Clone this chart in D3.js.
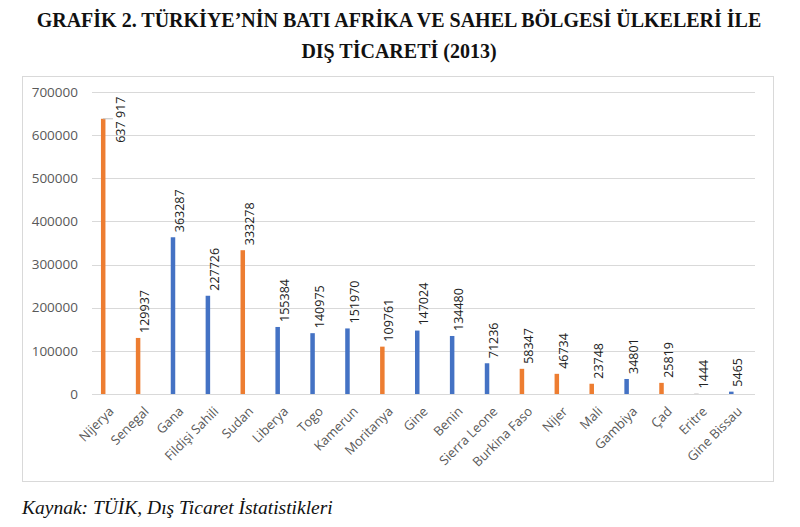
<!DOCTYPE html>
<meta charset="utf-8">
<style>
body { margin: 0; background: #fff; }
svg text { font-family: "Open Sans", sans-serif; }
</style>
<body>
<script src="https://cdn.jsdelivr.net/npm/d3@7"></script>
<script>

var width = 800, height = 527;

// data
var countries = ["Nijerya", "Senegal", "Gana", "Fildişi Sahili", "Sudan", "Liberya", "Togo",
  "Kamerun", "Moritanya", "Gine", "Benin", "Sierra Leone", "Burkina Faso", "Nijer",
  "Mali", "Gambiya", "Çad", "Eritre", "Gine Bissau"];
var values = [637917, 129937, 363287, 227726, 333278, 155384, 140975,
  151970, 109761, 147024, 134480, 71236, 58347, 46734,
  23748, 34801, 25819, 1444, 5465];
var valueLabels = ["637 917", "129937", "363287", "227726", "333278", "155384", "140975",
  "151970", "109761", "147024", "134480", "71236", "58347", "46734",
  "23748", "34801", "25819", "1444", "5465"];
var groups = ["o", "o", "b", "b", "o", "b", "b", "b", "o", "b", "b", "b", "o", "o",
  "o", "b", "o", "g", "b"];
var yTicks = [0, 100000, 200000, 300000, 400000, 500000, 600000, 700000];

var colour = {o: "#ed7d31", b: "#4472c4", g: "#d0cece"};

var svg = d3.select("body").append("svg")
    .attr("width", width)
    .attr("height", height);

// title
svg.append("g").selectAll("text")
    .data(["GRAFİK 2. TÜRKİYE’NİN BATI AFRİKA VE SAHEL BÖLGESİ ÜLKELERİ İLE", "DIŞ TİCARETİ (2013)"])
  .join("text")
    .attr("x", 399)
    .attr("y", function(d, i) { return 27 + i * 31; })
    .attr("text-anchor", "middle")
    .style("font-family", "'Liberation Serif', serif")
    .style("font-weight", "bold")
    .style("font-size", "20px")
    .attr("fill", "#111")
    .text(function(d) { return d; });

// chart frame
svg.append("rect")
    .attr("x", 22.5).attr("y", 76.5)
    .attr("width", 751).attr("height", 405)
    .attr("fill", "none")
    .attr("stroke", "#d9d9d9");

var x = d3.scaleBand().domain(countries).range([92, 755]);
var y = d3.scaleLinear().domain([0, 700000]).range([394, 92]);
var bw = x.bandwidth();

// grid + y labels
svg.append("g").selectAll("line")
    .data(yTicks)
  .join("line")
    .attr("x1", 92).attr("x2", 755)
    .attr("y1", function(d) { return Math.round(y(d)) + 0.5; })
    .attr("y2", function(d) { return Math.round(y(d)) + 0.5; })
    .attr("stroke", "#d9d9d9");

svg.append("g").selectAll("text")
    .data(yTicks)
  .join("text")
    .attr("x", 78)
    .attr("y", function(d) { return y(d); })
    .attr("dy", "0.35em")
    .attr("text-anchor", "end")
    .attr("fill", "#595959")
    .style("font-size", "13.5px")
    .text(function(d) { return d; });

// bars
var barX = function(c) { return x(c) + bw / 2 - 8.5; };

svg.append("g").selectAll("rect")
    .data(countries)
  .join("rect")
    .attr("x", barX)
    .attr("y", function(c, i) { return y(values[i]); })
    .attr("width", 4.5)
    .attr("height", function(c, i) { return y(0) - y(values[i]); })
    .attr("fill", function(c, i) { return colour[groups[i]]; });

// value labels
svg.append("g").selectAll("text")
    .data(countries)
  .join("text")
    .attr("transform", function(c, i) {
      var px = barX(c) + 9, py = y(values[i]) - 5;
      if (i === 0) { px = barX(c) + 20; py = y(values[i]) + 24; }
      return "translate(" + px + "," + py + ") rotate(-90)";
    })
    .attr("dy", "0.35em")
    .attr("fill", "#222")
    .style("font-size", "12.5px")
    .text(function(c, i) { return valueLabels[i]; });

// leader line for the first label
svg.append("path")
    .attr("d", d3.line()([[barX(countries[0]) + 2, y(values[0])], [barX(countries[0]) + 12, y(values[0])]]))
    .attr("stroke", "#bfbfbf")
    .attr("fill", "none");

// category labels
svg.append("g").selectAll("text")
    .data(countries)
  .join("text")
    .attr("transform", function(c) {
      return "translate(" + (x(c) + bw / 2 + 2) + ",409) rotate(-45)";
    })
    .attr("dy", "0.35em")
    .attr("text-anchor", "end")
    .attr("fill", "#595959")
    .style("font-size", "13px")
    .text(function(c) { return c; });

// source
svg.append("text")
    .attr("x", 22)
    .attr("y", 514)
    .style("font-family", "'Liberation Serif', serif")
    .style("font-style", "italic")
    .style("font-size", "19.5px")
    .attr("fill", "#111")
    .text("Kaynak: TÜİK, Dış Ticaret İstatistikleri");

</script>
</body>
